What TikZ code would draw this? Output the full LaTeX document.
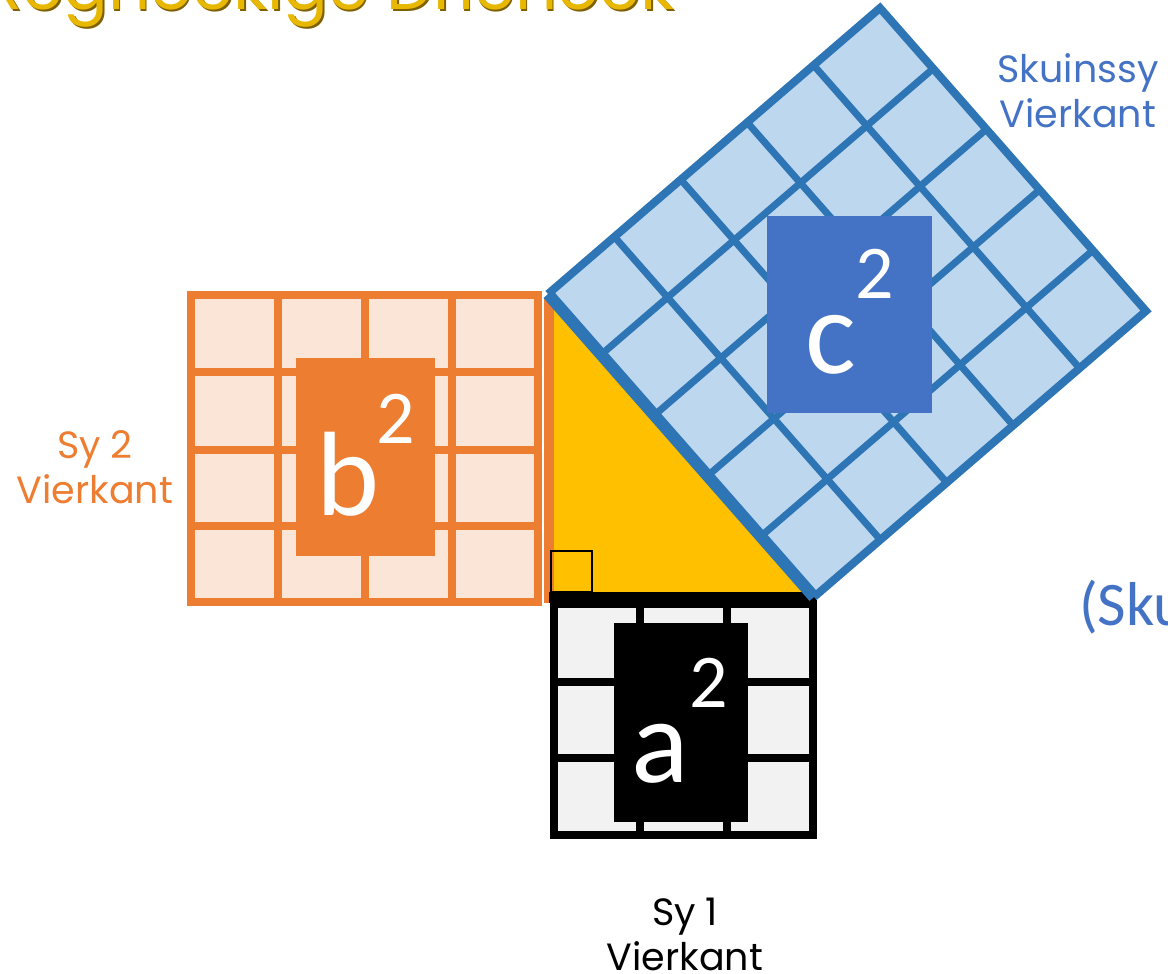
\documentclass[tikz,border=0pt]{standalone}
\usepackage{fontspec}
\usepackage{xcolor}
\usetikzlibrary{calc}
\newfontfamily\roundfont{Poppins}
\newfontfamily\boxfont{Carlito}
\definecolor{orline}{HTML}{ED7D31}
\definecolor{orfill}{HTML}{FBE5D6}
\definecolor{blline}{HTML}{2E75B6}
\definecolor{blfill}{HTML}{BDD7EE}
\definecolor{blbox}{HTML}{4472C4}
\definecolor{grfill}{HTML}{F2F2F2}
\definecolor{trigold}{HTML}{FFC000}
\definecolor{titlegold}{HTML}{E8B800}
\definecolor{titledark}{HTML}{7F6000}

\begin{document}
\begin{tikzpicture}[x=1pt, y=-1pt,
  letter/.style={inner sep=0pt, anchor=base, text=white, font=\boxfont\fontsize{120}{130}\selectfont},
  power/.style={inner sep=0pt, anchor=base, text=white, font=\boxfont\fontsize{76}{80}\selectfont},
  side/.style={inner sep=0pt, anchor=base, font=\roundfont\fontsize{38}{45}\selectfont}]
  \useasboundingbox (0,0) rectangle (1168,974);

  % title, only its lower part shows
  \node[inner sep=0pt, anchor=base east, text=titledark, font=\roundfont\fontsize{66}{70}\selectfont] (titleshadow) at (676.5,11.5) {Reghoekige Driehoek};
  \node[inner sep=0pt, anchor=base east, text=titlegold, font=\roundfont\fontsize{66}{70}\selectfont] (title) at (675,10) {Reghoekige Driehoek};

  % b^2 square
  \draw[orline, line width=8pt, fill=orfill] (191,295) rectangle (538,602);
  \foreach \x in {278,365,452} \draw[orline, line width=8pt] (\x,295) -- (\x,602);
  \foreach \y in {372,450,526} \draw[orline, line width=8pt] (191,\y) -- (538,\y);
  \draw[orline, line width=11pt] (549,299) -- (549,603);

  % triangle
  \fill[trigold] (554,296) -- (554,597) -- (815,597) -- cycle;
  \draw[black, line width=2pt] (551,551) rectangle (592,592);

  % a^2 square
  \draw[black, line width=8pt, fill=grfill] (554,604) rectangle (813,835);
  \foreach \x in {640,727} \draw[black, line width=8pt] (\x,604) -- (\x,835);
  \foreach \y in {682,758} \draw[black, line width=8pt] (554,\y) -- (813,\y);
  \draw[black, line width=11pt] (549,597) -- (816,597);

  % c^2 square
  \coordinate (p1) at (548,294);
  \coordinate (p2) at (880,8);
  \coordinate (p3) at (1146,311);
  \coordinate (p4) at (814,597);
  \fill[blfill] (p1) -- (p2) -- (p3) -- (p4) -- cycle;
  \foreach \t in {0.2,0.4,0.6,0.8} {
    \draw[blline, line width=7pt] ($(p1)!\t!(p2)$) -- ($(p4)!\t!(p3)$);
    \draw[blline, line width=7pt] ($(p1)!\t!(p4)$) -- ($(p2)!\t!(p3)$);
  }
  \draw[blline, line width=8pt, line join=miter] (p1) -- (p2) -- (p3) -- (p4);
  \draw[blline, line width=12pt] (p4) -- (p1);

  % boxes with the areas
  \fill[orline] (296,358) rectangle (435,556);
  \node[letter] (b) at (348,515) {b};
  \node[power] (b2) at (396,443) {2};
  \fill[black] (614,623) rectangle (748,822);
  \node[letter] (a) at (660,782) {a};
  \node[power] (a2) at (709,707) {2};
  \fill[blbox] (767,216) rectangle (932,413);
  \node[letter] (c) at (831,373) {c};
  \node[power] (c2) at (874.5,298) {2};

  % side labels
  \node[side, text=orline] (sy2) at (95,458) {Sy 2};
  \node[side, text=orline] (sy2v) at (95,503) {Vierkant};
  \node[side, text=black] (sy1) at (685,925) {Sy 1};
  \node[side, text=black] (sy1v) at (685,970) {Vierkant};
  \node[side, text=blbox] (sky) at (1078,83) {Skuinssy};
  \node[side, text=blbox] (skyv) at (1078,127) {Vierkant};
  \node[inner sep=0pt, anchor=base west, text=blbox, font=\boxfont\fontsize{62}{66}\selectfont] (sku) at (1079,625) {(Sku};
\end{tikzpicture}
\end{document}
